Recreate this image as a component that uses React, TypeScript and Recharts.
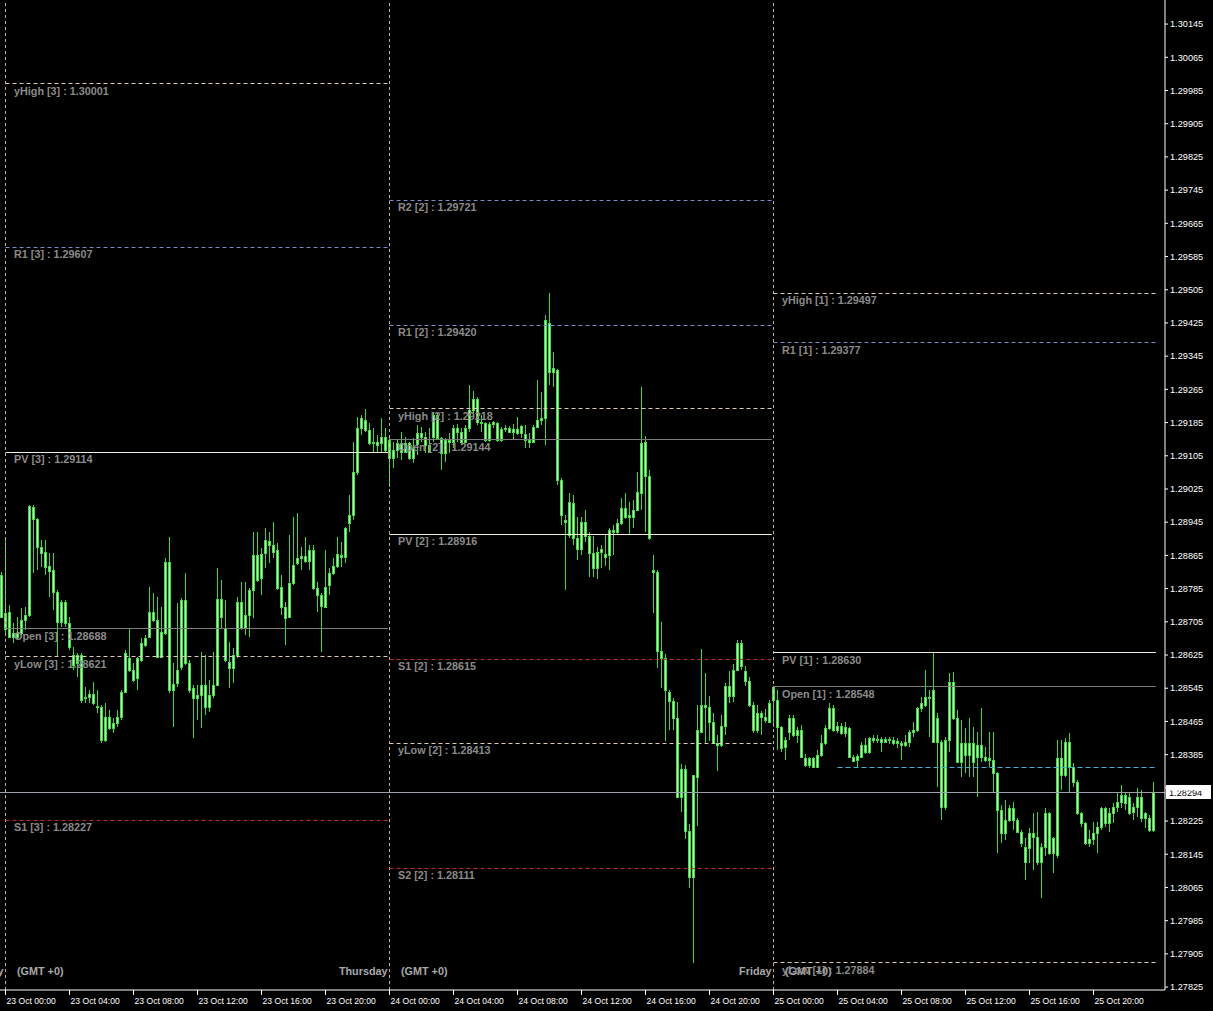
import { ComposedChart, Bar, XAxis, YAxis, ReferenceLine } from 'recharts';

type Ohlc = [number, number, number, number];

// 15 minute candles, open / high / low / close in points above 1.20000 (8688 -> 1.28688)
const oct22Tail: Ohlc[] = [[8818, 8825, 8714, 8717]];

const oct23: Ohlc[] = [
  [8688, 8907, 8673, 8726], [8729, 8746, 8666, 8668], [8668, 8702, 8654, 8678], [8678, 8717, 8661, 8668],
  [8678, 8738, 8668, 8709], [8709, 8741, 8685, 8722], [8722, 8986, 8717, 8984], [8982, 8986, 8823, 8953],
  [8953, 8955, 8830, 8885], [8885, 8902, 8837, 8871], [8873, 8902, 8818, 8837], [8840, 8871, 8765, 8828],
  [8830, 8871, 8734, 8777], [8777, 8782, 8620, 8705], [8705, 8758, 8693, 8753], [8753, 8758, 8693, 8702],
  [8702, 8717, 8637, 8644], [8625, 8644, 8589, 8601], [8606, 8630, 8572, 8625], [8625, 8630, 8510, 8517],
  [8522, 8548, 8510, 8524], [8524, 8541, 8510, 8531], [8531, 8560, 8505, 8510], [8502, 8541, 8485, 8500],
  [8500, 8505, 8413, 8420], [8420, 8510, 8415, 8476], [8476, 8493, 8444, 8449], [8449, 8473, 8437, 8461],
  [8461, 8493, 8452, 8476], [8476, 8541, 8469, 8536], [8536, 8637, 8534, 8630], [8618, 8690, 8584, 8589],
  [8589, 8606, 8560, 8565], [8570, 8620, 8541, 8618], [8613, 8666, 8608, 8654], [8649, 8673, 8644, 8666],
  [8668, 8789, 8668, 8729], [8729, 8775, 8705, 8709], [8709, 8765, 8618, 8620], [8620, 8741, 8618, 8680],
  [8678, 8859, 8673, 8849], [8849, 8909, 8534, 8541], [8541, 8606, 8452, 8555], [8558, 8750, 8548, 8589],
  [8596, 8762, 8589, 8758], [8758, 8823, 8601, 8606], [8606, 8613, 8534, 8541], [8546, 8553, 8425, 8522],
  [8522, 8553, 8469, 8529], [8529, 8632, 8449, 8553], [8553, 8625, 8480, 8500], [8500, 8565, 8488, 8529],
  [8529, 8632, 8522, 8553], [8553, 8835, 8553, 8760], [8760, 8806, 8690, 8717], [8690, 8758, 8608, 8613],
  [8608, 8656, 8546, 8594], [8594, 8642, 8558, 8625], [8625, 8765, 8618, 8753], [8753, 8801, 8685, 8690],
  [8690, 8801, 8673, 8722], [8722, 8787, 8668, 8782], [8782, 8921, 8714, 8866], [8866, 8921, 8801, 8806],
  [8811, 8883, 8770, 8868], [8871, 8931, 8835, 8902], [8900, 8921, 8847, 8890], [8890, 8946, 8859, 8873],
  [8878, 8895, 8782, 8787], [8789, 8818, 8722, 8741], [8741, 8753, 8649, 8714], [8717, 8914, 8714, 8799],
  [8799, 8958, 8794, 8842], [8847, 8967, 8842, 8859], [8859, 8885, 8830, 8864], [8864, 8909, 8847, 8852],
  [8852, 8890, 8830, 8878], [8878, 8890, 8782, 8787], [8787, 8801, 8729, 8770], [8770, 8775, 8632, 8743],
  [8741, 8878, 8738, 8789], [8794, 8835, 8770, 8823], [8823, 8859, 8818, 8840], [8840, 8909, 8835, 8868],
  [8866, 8897, 8837, 8861], [8861, 8934, 8847, 8931], [8943, 9011, 8921, 8962], [8962, 9138, 8950, 9066],
  [9066, 9198, 9059, 9172], [9172, 9203, 9155, 9196], [9191, 9218, 9162, 9167], [9167, 9184, 9131, 9136],
  [9136, 9172, 9114, 9138], [9138, 9155, 9114, 9131], [9136, 9196, 9112, 9150], [9150, 9172, 9112, 9118],
];

const oct24: Ohlc[] = [
  [9144, 9150, 9030, 9100], [9100, 9138, 9076, 9119], [9119, 9143, 9100, 9136], [9136, 9162, 9095, 9114],
  [9114, 9150, 9114, 9136], [9136, 9138, 9095, 9100], [9100, 9148, 9088, 9124], [9133, 9179, 9107, 9160],
  [9160, 9174, 9138, 9150], [9150, 9162, 9112, 9131], [9131, 9172, 9112, 9114], [9150, 9208, 9138, 9203],
  [9203, 9208, 9148, 9148], [9148, 9150, 9071, 9112], [9112, 9148, 9090, 9143], [9143, 9160, 9112, 9138],
  [9138, 9179, 9124, 9172], [9172, 9182, 9138, 9162], [9162, 9172, 9131, 9138], [9138, 9179, 9136, 9172],
  [9172, 9276, 9162, 9215], [9215, 9261, 9203, 9242], [9242, 9247, 9179, 9186], [9186, 9203, 9162, 9184],
  [9184, 9186, 9138, 9143], [9143, 9186, 9138, 9182], [9182, 9189, 9172, 9186], [9184, 9186, 9138, 9143],
  [9143, 9174, 9138, 9170], [9170, 9179, 9162, 9172], [9172, 9177, 9160, 9162], [9162, 9182, 9143, 9170],
  [9170, 9198, 9155, 9160], [9160, 9179, 9148, 9177], [9158, 9179, 9124, 9143], [9143, 9160, 9124, 9138],
  [9138, 9179, 9136, 9174], [9174, 9288, 9172, 9191], [9191, 9259, 9179, 9196], [9196, 9444, 9131, 9432],
  [9425, 9497, 9276, 9307], [9307, 9355, 9271, 9317], [9312, 9314, 9035, 9047], [9047, 9052, 8938, 8962],
  [8950, 8962, 8782, 8946], [8914, 9015, 8907, 8994], [8991, 9011, 8890, 8907], [8907, 8958, 8854, 8880],
  [8880, 8958, 8866, 8946], [8946, 8974, 8897, 8912], [8912, 8921, 8813, 8871], [8871, 8912, 8813, 8835],
  [8835, 8885, 8808, 8873], [8873, 8890, 8835, 8880], [8868, 8917, 8840, 8861], [8866, 8931, 8830, 8926],
  [8926, 8938, 8866, 8921], [8921, 8953, 8917, 8943], [8943, 9003, 8938, 8979], [8979, 9015, 8953, 8958],
  [8958, 8994, 8917, 8962], [8958, 8998, 8931, 8974], [8974, 9066, 8972, 9018], [9015, 9271, 8974, 9136],
  [9138, 9153, 8921, 9056], [9056, 9071, 8902, 8907], [8830, 8866, 8726, 8825], [8825, 8830, 8594, 8635],
  [8635, 8705, 8546, 8618], [8618, 8628, 8418, 8541], [8536, 8541, 8444, 8514], [8514, 8522, 8444, 8473],
  [8473, 8512, 8283, 8283], [8283, 8362, 8247, 8350], [8350, 8360, 8182, 8201], [8201, 8218, 8064, 8090],
  [8090, 8336, 7884, 8336], [8331, 8505, 8213, 8444], [8440, 8639, 8440, 8505], [8505, 8582, 8413, 8500],
  [8500, 8526, 8418, 8464], [8464, 8485, 8413, 8413], [8413, 8432, 8346, 8408], [8408, 8480, 8403, 8454],
  [8454, 8558, 8432, 8550], [8550, 8587, 8510, 8526], [8526, 8603, 8512, 8589], [8589, 8661, 8587, 8654],
  [8654, 8661, 8589, 8599], [8587, 8599, 8550, 8562], [8562, 8572, 8500, 8505], [8505, 8512, 8437, 8444],
  [8444, 8505, 8437, 8485], [8485, 8490, 8432, 8476], [8476, 8495, 8461, 8469], [8464, 8517, 8461, 8510],
];

const oct25: Ohlc[] = [
  [8548, 8550, 8452, 8517], [8517, 8541, 8396, 8452], [8452, 8454, 8391, 8401], [8403, 8428, 8372, 8420],
  [8440, 8480, 8420, 8473], [8473, 8480, 8428, 8432], [8432, 8452, 8413, 8444], [8444, 8456, 8377, 8379],
  [8377, 8386, 8355, 8360], [8360, 8379, 8353, 8377], [8377, 8379, 8353, 8355], [8355, 8396, 8353, 8384],
  [8384, 8432, 8379, 8413], [8413, 8456, 8408, 8449], [8449, 8510, 8444, 8497], [8497, 8505, 8440, 8444],
  [8444, 8464, 8437, 8454], [8454, 8461, 8432, 8437], [8437, 8464, 8428, 8452], [8449, 8452, 8377, 8379],
  [8379, 8384, 8367, 8370], [8372, 8386, 8353, 8382], [8379, 8415, 8377, 8408], [8408, 8425, 8386, 8391],
  [8391, 8428, 8386, 8425], [8425, 8432, 8413, 8420], [8420, 8432, 8413, 8423], [8423, 8428, 8391, 8415],
  [8415, 8428, 8413, 8423], [8423, 8428, 8411, 8420], [8420, 8428, 8408, 8413], [8413, 8425, 8401, 8418],
  [8413, 8418, 8372, 8408], [8408, 8432, 8403, 8415], [8415, 8444, 8403, 8440], [8440, 8464, 8428, 8444],
  [8444, 8500, 8440, 8497], [8497, 8524, 8488, 8510], [8505, 8589, 8500, 8524], [8524, 8541, 8428, 8522],
  [8541, 8630, 8413, 8415], [8415, 8485, 8307, 8473], [8415, 8420, 8228, 8259], [8259, 8428, 8252, 8420],
  [8420, 8582, 8391, 8560], [8560, 8584, 8469, 8473], [8473, 8493, 8365, 8367], [8367, 8469, 8331, 8413],
  [8413, 8449, 8341, 8384], [8384, 8473, 8331, 8413], [8413, 8452, 8331, 8367], [8379, 8440, 8283, 8408],
  [8408, 8497, 8367, 8379], [8379, 8403, 8367, 8372], [8372, 8440, 8355, 8377], [8372, 8440, 8293, 8341],
  [8341, 8343, 8148, 8252], [8252, 8264, 8172, 8196], [8196, 8276, 8179, 8228], [8228, 8264, 8223, 8257],
  [8257, 8271, 8203, 8228], [8228, 8233, 8196, 8199], [8199, 8203, 8162, 8172], [8162, 8184, 8083, 8126],
  [8160, 8208, 8124, 8196], [8196, 8245, 8107, 8187], [8187, 8247, 8119, 8126], [8126, 8172, 8040, 8162],
  [8162, 8257, 8141, 8245], [8245, 8247, 8143, 8148], [8148, 8187, 8100, 8184], [8143, 8420, 8136, 8377],
  [8377, 8420, 8300, 8336], [8336, 8425, 8331, 8415], [8415, 8437, 8293, 8355], [8355, 8365, 8307, 8319],
  [8319, 8324, 8240, 8245], [8245, 8247, 8211, 8220], [8220, 8223, 8167, 8172], [8172, 8203, 8162, 8182],
  [8182, 8223, 8167, 8196], [8196, 8223, 8148, 8211], [8211, 8259, 8203, 8257], [8257, 8259, 8211, 8220],
  [8220, 8257, 8199, 8245], [8245, 8269, 8220, 8259], [8259, 8293, 8247, 8271], [8271, 8312, 8257, 8288],
  [8288, 8295, 8252, 8269], [8283, 8295, 8240, 8245], [8247, 8269, 8228, 8259], [8259, 8305, 8235, 8283],
  [8283, 8300, 8223, 8233], [8233, 8247, 8208, 8245], [8233, 8240, 8199, 8203], [8203, 8319, 8199, 8294],
];

// daily pivot levels, one list per day, tag is the [n] in the label
const levels23: [string, number][] = [
  ['yHigh', 1.30001], ['R1', 1.29607], ['PV', 1.29114], ['Open', 1.28688], ['yLow', 1.28621], ['S1', 1.28227],
];
const levels24: [string, number][] = [
  ['R2', 1.29721], ['R1', 1.2942], ['yHigh', 1.29218], ['Open', 1.29144], ['PV', 1.28916],
  ['S1', 1.28615], ['yLow', 1.28413], ['S2', 1.28111],
];
const levels25: [string, number][] = [
  ['yHigh', 1.29497], ['R1', 1.29377], ['PV', 1.2863], ['Open', 1.28548], ['yLow', 1.27884],
];
const pivotTags = [3, 2, 1];
const dayStarts = [0, 96, 192];
const dayBreakNames = ['Wednesday', 'Thursday', 'Friday'];

const lastPrice = 1.28294;
const cyanLevel = 1.28353;
const cyanFrom = 208;

const yTicks = [
  1.30145, 1.30065, 1.29985, 1.29905, 1.29825, 1.29745, 1.29665, 1.29585, 1.29505, 1.29425,
  1.29345, 1.29265, 1.29185, 1.29105, 1.29025, 1.28945, 1.28865, 1.28785, 1.28705, 1.28625,
  1.28545, 1.28465, 1.28385, 1.28305, 1.28225, 1.28145, 1.28065, 1.27985, 1.27905, 1.27825,
];
const xTicks = [0, 16, 32, 48, 64, 80, 96, 112, 128, 144, 160, 176, 192, 208, 224, 240, 256, 272];
const xTickLabels = [
  '23 Oct 00:00', '23 Oct 04:00', '23 Oct 08:00', '23 Oct 12:00', '23 Oct 16:00', '23 Oct 20:00',
  '24 Oct 00:00', '24 Oct 04:00', '24 Oct 08:00', '24 Oct 12:00', '24 Oct 16:00', '24 Oct 20:00',
  '25 Oct 00:00', '25 Oct 04:00', '25 Oct 08:00', '25 Oct 12:00', '25 Oct 16:00', '25 Oct 20:00',
];

const FONT = '"Liberation Sans", Arial, sans-serif';
const toPrice = (v: number) => 1.2 + v / 100000;

const candles = [...oct22Tail, ...oct23, ...oct24, ...oct25];
const data = candles.map((c, k) => ({
  i: k - oct22Tail.length,
  open: toPrice(c[0]),
  high: toPrice(c[1]),
  low: toPrice(c[2]),
  close: toPrice(c[3]),
  range: [toPrice(c[2]), toPrice(c[1])],
}));

function levelStyle(name: string) {
  if (name === 'PV') return { stroke: '#f2efcf', dash: undefined };
  if (name === 'Open') return { stroke: '#7c7c7c', dash: undefined };
  if (name[0] === 'R') return { stroke: '#7d8cc4', dash: '4 3' };
  if (name[0] === 'S') return { stroke: '#b2302c', dash: '4 3' };
  return { stroke: '#dccbb8', dash: '4 3' };
}

const CandleShape = (props: any) => {
  const { x, y, width, height, payload } = props;
  if (x == null || y == null || !payload) return null;
  const cx = Math.floor(x + width / 2) + 0.5;
  const top = Math.min(y, y + height);
  const h = Math.abs(height);
  const span = payload.high - payload.low;
  const toY = (p: number) => (span > 0 ? top + ((payload.high - p) / span) * h : top);
  const bTop = Math.round(toY(Math.max(payload.open, payload.close)));
  const bBot = Math.round(toY(Math.min(payload.open, payload.close)));
  return (
    <g>
      <line x1={cx} y1={Math.round(top)} x2={cx} y2={Math.round(top + h)} stroke="#38d838" strokeWidth={1} />
      {bBot - bTop < 1 ? (
        <line x1={cx - 1.5} y1={bTop + 0.5} x2={cx + 1.5} y2={bTop + 0.5} stroke="#5ee85e" strokeWidth={1} />
      ) : (
        <rect x={cx - 1} y={bTop + 0.5} width={2} height={bBot - bTop} fill="#b6f5b6" stroke="#44dc44" strokeWidth={1} />
      )}
    </g>
  );
};

const flatLine = (p: any) => {
  const yy = Math.round(p.y1 - 0.5) + 0.5;
  return (
    <line x1={p.x1} y1={yy} x2={p.x2} y2={yy} stroke={p.stroke} strokeWidth={1} strokeDasharray={p.strokeDasharray} />
  );
};

const XTick = (props: any) => {
  const { x, payload } = props;
  const k = xTicks.indexOf(payload.value);
  return (
    <g>
      <line x1={x} y1={990} x2={x} y2={995} stroke="#ffffff" />
      <text x={x + 1} y={1003.5} fill="#ffffff" fontSize={8.6} fontFamily={FONT}>
        {xTickLabels[k]}
      </text>
    </g>
  );
};

export default function App() {
  const dayLevels = [levels23, levels24, levels25];

  return (
    <div style={{ position: 'absolute', left: 0, top: 0, width: 1213, height: 1011, background: '#000000' }}>
      <ComposedChart width={1213} height={1011} data={data} margin={{ top: 0, right: 0, bottom: 0, left: 0 }}>
        <XAxis
          dataKey="i"
          type="number"
          domain={[-1.375, 289.875]}
          allowDataOverflow
          ticks={xTicks}
          interval={0}
          height={21}
          axisLine={{ stroke: '#ffffff' }}
          tickLine={false}
          tick={<XTick />}
        />
        <YAxis
          orientation="right"
          type="number"
          domain={[1.27818, 1.30203]}
          allowDataOverflow
          ticks={yTicks}
          interval={0}
          width={48}
          tickSize={3}
          tickMargin={2}
          axisLine={{ stroke: '#ffffff' }}
          tickLine={{ stroke: '#ffffff' }}
          tick={{ fill: '#ffffff', fontSize: 9.2, fontFamily: FONT }}
          tickFormatter={(v: number) => v.toFixed(5)}
        />

        {dayStarts.map((s, d) => (
          <ReferenceLine
            key={`sep${d}`}
            x={s}
            stroke="#bfb0a0"
            strokeDasharray="3 3"
            label={(p: any) => (
              <g fontFamily={FONT} fontWeight="bold" fontSize={10.8} fill="#a8a8a8">
                <text x={p.viewBox.x - 2} y={975} textAnchor="end">
                  {dayBreakNames[d]}
                </text>
                <text x={p.viewBox.x + 11.5} y={975}>
                  (GMT +0)
                </text>
              </g>
            )}
          />
        ))}

        <ReferenceLine y={lastPrice} stroke="#9aa0aa" shape={flatLine} />
        <ReferenceLine
          segment={[{ x: cyanFrom, y: cyanLevel }, { x: 287.6, y: cyanLevel }]}
          stroke="#3fb5d5"
          strokeDasharray="5 3"
          shape={flatLine}
        />

        {dayLevels.map((lv, d) =>
          lv.map(([name, value]) => {
            const st = levelStyle(name);
            return (
              <ReferenceLine
                key={`${d}-${name}`}
                segment={[{ x: dayStarts[d], y: value }, { x: dayStarts[d] + 95.6, y: value }]}
                stroke={st.stroke}
                strokeDasharray={st.dash}
                shape={flatLine}
                label={(p: any) => (
                  <text
                    x={p.viewBox.x + 8.5}
                    y={p.viewBox.y + 11}
                    fill="#8a8a8a"
                    fontSize={10.8}
                    fontWeight="bold"
                    fontFamily={FONT}
                  >
                    {`${name} [${pivotTags[d]}] : ${value.toFixed(5)}`}
                  </text>
                )}
              />
            );
          })
        )}

        <Bar dataKey="range" barSize={3} shape={<CandleShape />} isAnimationActive={false} />

        <ReferenceLine
          y={lastPrice}
          stroke="none"
          label={(p: any) => (
            <g>
              <rect x={1166} y={Math.round(p.viewBox.y) - 7} width={45} height={14} fill="#ffffff" />
              <text x={1169} y={Math.round(p.viewBox.y) + 4} fill="#000000" fontSize={9.2} fontFamily={FONT}>
                {lastPrice.toFixed(5)}
              </text>
            </g>
          )}
        />
      </ComposedChart>
    </div>
  );
}
